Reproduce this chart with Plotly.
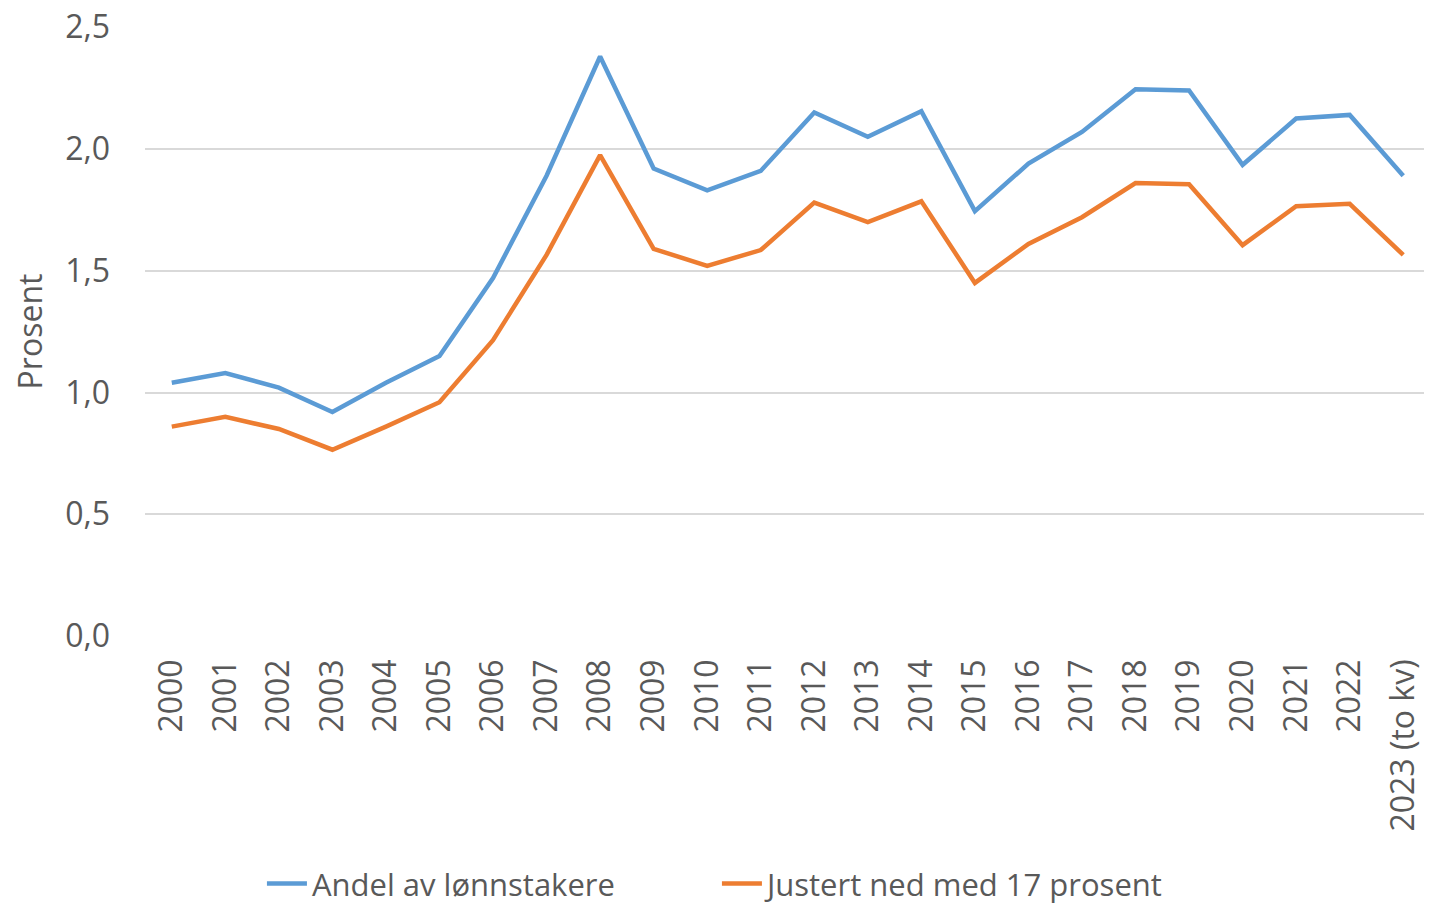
import plotly.graph_objects as go

years = ["2000", "2001", "2002", "2003", "2004", "2005", "2006", "2007", "2008", "2009",
         "2010", "2011", "2012", "2013", "2014", "2015", "2016", "2017", "2018", "2019",
         "2020", "2021", "2022", "2023 (to kv)"]

andel = [1.04, 1.08, 1.02, 0.92, 1.04, 1.15, 1.47, 1.89, 2.38, 1.92,
         1.83, 1.91, 2.15, 2.05, 2.155, 1.745, 1.94, 2.07, 2.245, 2.24,
         1.935, 2.125, 2.14, 1.89]

justert = [0.86, 0.90, 0.85, 0.765, 0.86, 0.96, 1.215, 1.565, 1.975, 1.59,
           1.52, 1.585, 1.78, 1.70, 1.785, 1.45, 1.61, 1.72, 1.86, 1.855,
           1.605, 1.765, 1.775, 1.565]

yticks = [0, 0.5, 1.0, 1.5, 2.0, 2.5]
yticklabels = ["0,0", "0,5", "1,0", "1,5", "2,0", "2,5"]

FONT = "Open Sans"
GREY = "#595959"
x = list(range(len(years)))

fig = go.Figure()
fig.add_trace(go.Scatter(x=x, y=andel, mode="lines", name="Andel av lønnstakere",
                         line=dict(color="#5B9BD5", width=4.5)))
fig.add_trace(go.Scatter(x=x, y=justert, mode="lines", name="Justert ned med 17 prosent",
                         line=dict(color="#ED7D31", width=4.5)))

fig.update_layout(
    width=1424, height=897,
    margin=dict(l=137, r=2, t=19, b=269, autoexpand=False),
    paper_bgcolor="white", plot_bgcolor="white",
    font=dict(family=FONT, color=GREY, size=32),
    showlegend=True,
    legend=dict(orientation="h", x=0.091, xanchor="left", y=-0.407, yanchor="middle",
                font=dict(size=31, color=GREY), itemwidth=40, tracegroupgap=0,
                entrywidth=400, entrywidthmode="pixels"),
)
fig.update_xaxes(
    tickmode="array", tickvals=x, ticktext=years, tickangle=-90,
    range=[-0.5, len(years) - 0.5], showgrid=False, zeroline=False,
    showline=False, ticks="", ticklabelstandoff=16, ticklabeloverflow="allow",
    tickfont=dict(size=32, color=GREY, family=FONT), automargin=False,
)
fig.update_yaxes(
    tickmode="array", tickvals=yticks, ticktext=yticklabels, range=[0, 2.501],
    showgrid=True, gridcolor="#D9D9D9", gridwidth=2, zeroline=False,
    showline=False, ticks="", ticklabelstandoff=34, ticklabeloverflow="allow",
    tickfont=dict(size=32, color=GREY, family=FONT), automargin=False,
    title=dict(text="Prosent", font=dict(size=32, color=GREY, family=FONT), standoff=18),
)

fig.write_html("out.html")
